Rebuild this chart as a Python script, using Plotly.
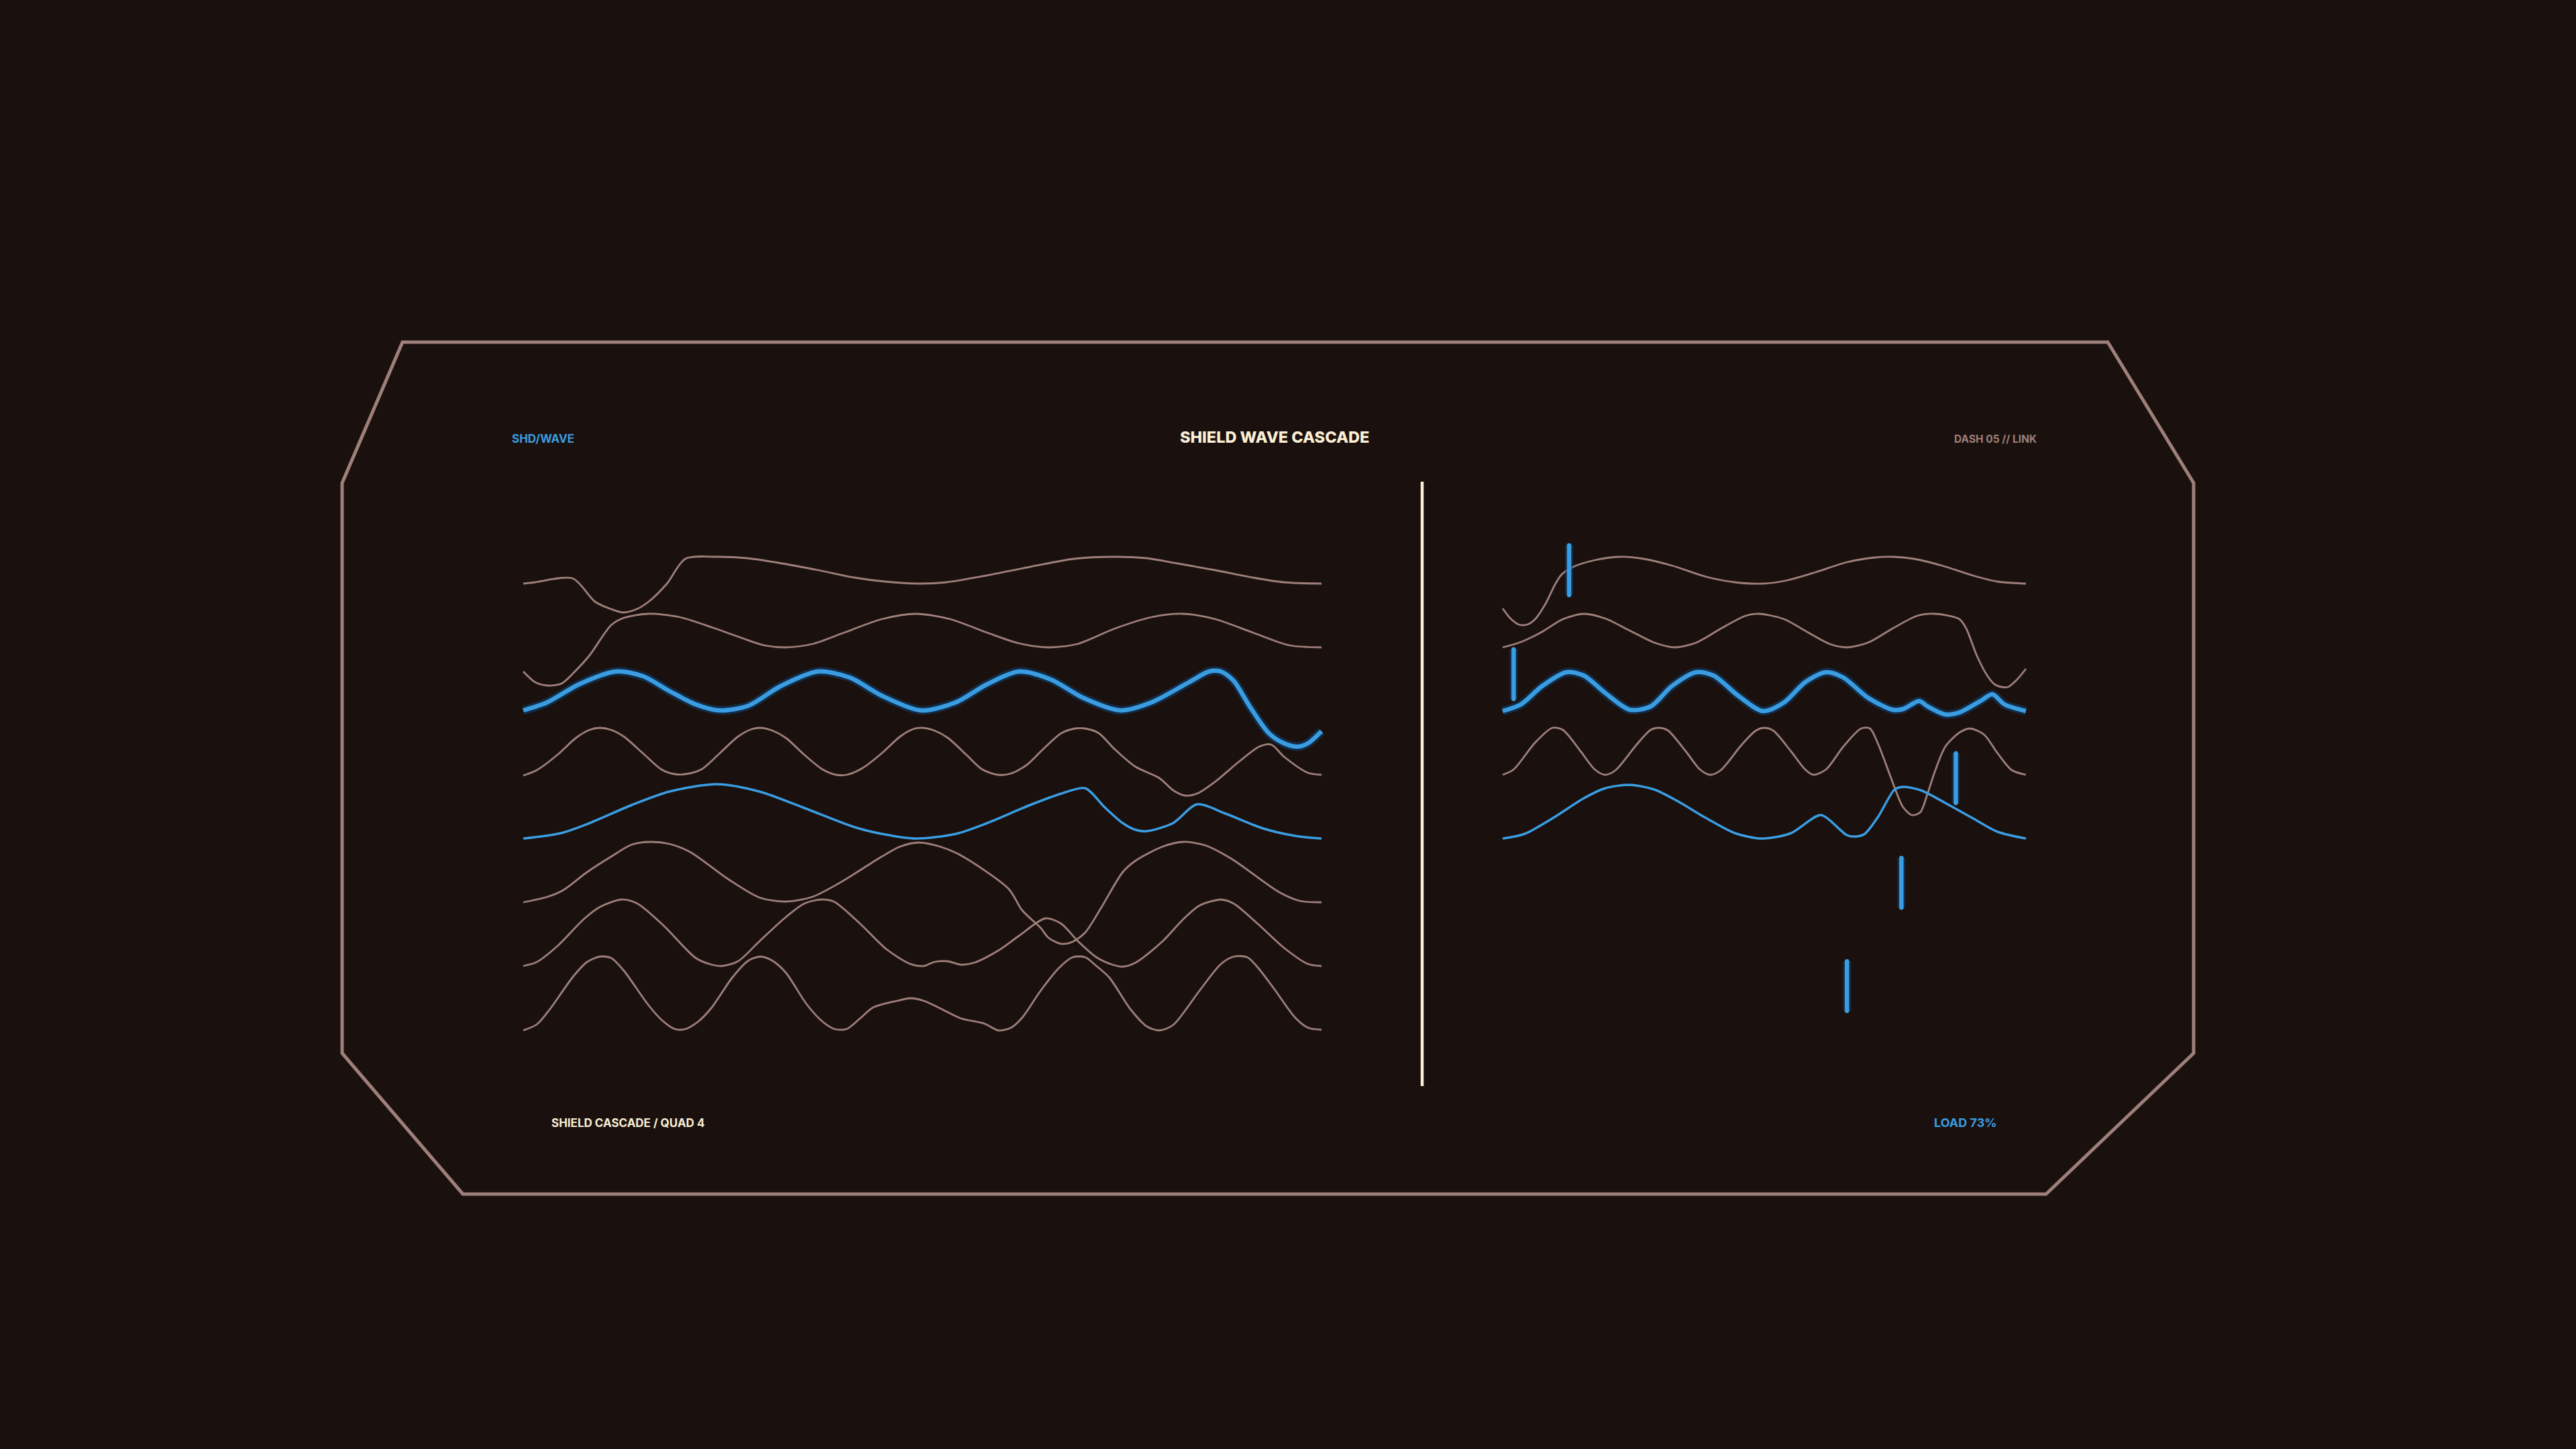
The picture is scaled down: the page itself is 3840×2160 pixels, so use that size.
import plotly.graph_objects as go

# Colours
BG = '#1a110e'
MAUVE = '#9e7f7a'
BLUE = '#3a9de2'
GLOW = 'rgba(15,65,115,0.55)'
CREAM = '#fcefd6'

# Left panel waves: x in % of panel width, value = height above the row baseline
L0_x = [0, 1.5, 6.2, 9, 11, 12.5, 14.2, 15.7, 18, 20.3, 24.3, 28, 32, 37, 41.5, 45, 49.5,
        53, 58, 63.5, 69, 74, 78, 82, 86.7, 91.4, 95.3, 100]
L0_v = [0, 2, 7.7, -27, -38, -43, -38, -27, 0, 37, 40, 38, 31, 20, 9, 3.5, 0,
        2, 12, 25, 37, 40, 38, 30, 20, 9, 2, 0]

L1_x = [0, 1.5, 3.1, 4.8, 6.3, 8.3, 11, 12.6, 15.7, 19.6, 23.6, 27.6, 30.2, 32.9, 36.2, 40.2,
        44.9, 49.2, 53.5, 58.1, 62.1, 65.8, 69.4, 74.1, 78.7, 82.7, 86.7, 91.4, 96, 100]
L1_v = [-36, -52, -57, -54, -38, -12, 33, 44, 50, 45, 30, 13, 3, 0, 5, 22,
        42, 50, 42, 22, 6, 0, 5, 28, 45, 50, 42, 22, 3, 0]

L2_x = [0, 3, 7, 11.6, 15, 18.3, 21.6, 24.6, 28.2, 32.2, 36.9, 40.9, 44.9, 49.8, 54.2, 58.1,
        62.1, 66.1, 70.1, 74.8, 78.7, 83.4, 85.9, 87.4, 89, 91, 93.4, 95.3, 97, 98.3, 100]
L2_v = [1, 13, 40, 59, 52, 30, 10, 1, 8, 37, 59, 50, 23, 1, 13, 40,
        59, 47, 20, 1, 13, 43, 59, 59, 45, 7, -33, -48, -53, -48, -30]

L3_x = [0, 1.7, 4.3, 6.6, 8.3, 9.6, 11, 12.6, 15, 17.3, 19, 20.3, 22.3, 24.6, 26.9, 28.6, 29.7,
        31.2, 32.9, 35.2, 37.5, 39.2, 40.5, 42.5, 44.9, 47.2, 48.8, 50, 51.5, 53.2, 55.5, 57.5,
        59.5, 61.1, 63.1, 65.1, 67.4, 69.1, 70.4, 72.1, 74.1, 76.7, 79.7, 81.4, 82.9, 84.4,
        86.7, 89.7, 92.2, 93.7, 95.3, 98.3, 100]
L3_v = [-1, 7, 30, 55, 67, 70, 67, 57, 32, 8, 1, 1, 8, 32, 57, 68, 70,
        66, 55, 30, 8, 0, 0, 10, 32, 57, 68, 70, 66, 55, 30, 8,
        0, 2, 15, 38, 62, 69, 69, 62, 38, 12, -5, -23, -31, -28,
        -10, 20, 42, 45, 27, 3, 0]

L4_x = [0, 4.7, 8.3, 13.6, 18.3, 24.3, 29.6, 34.9, 41.5, 44.9, 49.2, 54.2, 58.1, 63.5, 67.4,
        70.4, 72.8, 75.1, 76.7, 78.1, 81.4, 84.4, 88, 92.7, 96.7, 100]
L4_v = [0, 8, 23, 50, 70, 81, 70, 47, 17, 7, 0, 7, 23, 50, 67,
        75, 47, 23, 13, 11, 23, 51, 37, 15, 4, 0]

L5_x = [0, 3, 5, 8, 11, 13.6, 16, 18.3, 20.9, 25.6, 29.6, 32.9, 36.2, 39.5, 44.9, 47.2, 49.5,
        52.2, 54.8, 60.8, 62.5, 64.8, 65.8, 67.4, 68.8, 70.4, 72.4, 75.1, 76.7, 80.1, 82.7,
        85.4, 88.7, 94.7, 97.3, 100]
L5_v = [0, 8, 18, 45, 68, 86, 90, 87, 75, 35, 7, 1, 8, 28, 68, 83, 89,
        83, 70, 20, -12, -38, -53, -62, -59, -45, -8, 45, 62, 83, 90,
        85, 65, 15, 2, 0]

L6_x = [0, 1.7, 4.3, 7.6, 9.6, 12.3, 14.3, 17.6, 21.6, 23.6, 24.9, 26.9, 29.6, 32.9, 35.2, 37.2,
        38.9, 42.2, 45.5, 48.5, 50.2, 51.5, 53.2, 54.8, 56.5, 59.5, 62.1, 65.4, 67.4, 69.4,
        71.8, 73.8, 75.1, 76.7, 80.1, 82.7, 84.7, 87.4, 89, 92, 95.3, 98.3, 100]
L6_v = [0, 6, 30, 70, 88, 99, 93, 60, 12, 2, 0, 7, 37, 73, 93, 99,
        96, 63, 25, 3, 0, 6, 7, 2, 5, 23, 45, 71, 63, 38,
        13, 2, -1, 5, 37, 70, 90, 99, 93, 63, 27, 3, 0]

L7_x = [0, 1.7, 3.3, 6.3, 8, 9.6, 11, 12.6, 15.6, 17.3, 19, 20.3, 21.9, 23.6, 26.2, 28.2, 29.7,
        31.2, 32.9, 35.5, 37.5, 39, 40.5, 42.2, 43.8, 46.8, 48.5, 50.2, 52.2, 54.8, 57.8, 59.5,
        61.1, 62.5, 64.8, 67.1, 68.8, 70.4, 71.8, 73.4, 76.1, 78.1, 79.7, 81.4, 84.7, 87.4, 89,
        90.7, 92, 94, 96.7, 98.3, 100]
L7_v = [-1, 8, 30, 80, 101, 109, 107, 88, 38, 15, 1, 1, 12, 33, 78, 103, 109,
        103, 85, 38, 12, 1, 1, 17, 33, 43, 47, 43, 32, 17, 9, -1,
        3, 18, 58, 92, 108, 108, 95, 78, 30, 5, -1, 7, 58, 98, 109,
        108, 93, 62, 18, 3, 0]

# Right panel waves
R0_x = [0, 1.5, 3.1, 4.7, 6.2, 8.2, 9.9, 11.2, 13.5, 17.6, 22.3, 26.9, 32.3, 39, 44.4, 49.7,
        54.4, 59.8, 65.8, 71.2, 74.5, 78.6, 83.9, 89.9, 94.6, 100]
R0_v = [-37, -52, -61, -61, -53, -30, -3, 13, 25, 35, 40, 37, 27, 10, 2, 0,
        5, 17, 32, 39, 40, 37, 27, 12, 3, 0]

R1_x = [0, 3.5, 7.5, 11.5, 15.5, 19.6, 24.3, 29, 33, 37, 41.7, 46.4, 49, 53.8, 58.4, 62.5,
        65.8, 69.8, 74.5, 79.2, 82.6, 87.3, 88.6, 90.6, 92.6, 94, 95.3, 96.6, 98.3, 100]
R1_v = [0, 8, 23, 42, 50, 43, 25, 7, 0, 7, 28, 47, 50, 42, 22, 5,
        0, 7, 28, 47, 50, 42, 28, -12, -42, -55, -59, -59, -48, -32]

R2_x = [0, 3.5, 7.5, 12.2, 15.5, 19.6, 24.3, 28.3, 32.3, 37, 40.3, 45, 49.7, 53.8, 57.8, 61.8,
        65.1, 69.8, 74.5, 76.5, 79.6, 81.2, 84.6, 87.3, 91.3, 93.6, 95.9, 100]
R2_v = [0, 10, 37, 58, 53, 27, 2, 7, 37, 58, 53, 23, 0, 13, 43, 58,
        50, 20, 2, 3, 15, 7, -5, -2, 15, 25, 10, 0]

R3_x = [0, 2.1, 6.2, 9.5, 11.5, 14.9, 17.6, 19.6, 21.6, 25.6, 28.3, 30, 31.6, 35, 37.7, 39.7,
        41.7, 45.7, 48.4, 50, 51.7, 55.1, 57.8, 59.4, 61.8, 65.1, 68.5, 70.2, 71.8, 73.9, 75.2,
        76.5, 78.2, 79.8, 81.2, 82.6, 84.6, 87.3, 89.3, 92, 94.6, 97.3, 100]
R3_v = [0, 8, 48, 70, 67, 35, 8, 0, 7, 45, 67, 70, 66, 35, 8, 0,
        7, 45, 66, 70, 66, 35, 8, 0, 8, 42, 69, 69, 45, 2, -25,
        -48, -60, -56, -28, 5, 42, 63, 69, 60, 32, 7, 0]

R4_x = [0, 4.2, 9.5, 15.5, 19.6, 24.3, 29, 33.6, 39, 44.4, 49.7, 55.1, 60.8, 64.5, 65.8, 67.5,
        69.2, 71.8, 74.9, 76.5, 79.9, 84.6, 89.9, 94.6, 100]
R4_v = [0, 7, 30, 60, 75, 80, 73, 55, 30, 8, 0, 8, 35, 13, 5, 3,
        7, 33, 73, 77, 72, 53, 30, 10, 0]

# Event ticks on the right panel (x in %, level relative to first baseline)
TICK_X = [12.7, 2.1, 86.6, 76.2, 65.8]
TICK_LEVEL = [20, -135, -290, -446, -600]

left_rows = [(L0_x, L0_v), (L1_x, L1_v), (L2_x, L2_v), (L3_x, L3_v),
             (L4_x, L4_v), (L5_x, L5_v), (L6_x, L6_v), (L7_x, L7_v)]
right_rows = [(R0_x, R0_v), (R1_x, R1_v), (R2_x, R2_v), (R3_x, R3_v), (R4_x, R4_v)]

W, H = 3840, 2160
ROW_GAP = 95
TICK_HALF = 37


def px(x):
    return x / W


def py(y):
    return 1 - y / H


fig = go.Figure()


def add_row(xs, vs, r, xa, ya):
    ys = [v - ROW_GAP * r for v in vs]
    if r == 2:
        fig.add_trace(go.Scatter(x=xs, y=ys, mode='lines', xaxis=xa, yaxis=ya,
                                 line=dict(color=GLOW, width=13, shape='spline', smoothing=0.8),
                                 hoverinfo='skip'))
        line = dict(color=BLUE, width=6.5, shape='spline', smoothing=0.8)
    elif r == 4:
        line = dict(color=BLUE, width=3.5, shape='spline', smoothing=0.8)
    else:
        line = dict(color=MAUVE, width=2.8, shape='spline', smoothing=0.8)
    fig.add_trace(go.Scatter(x=xs, y=ys, mode='lines', xaxis=xa, yaxis=ya, line=line,
                             hoverinfo='skip'))


for r, (xs, vs) in enumerate(left_rows):
    add_row(xs, vs, r, 'x', 'y')
for r, (xs, vs) in enumerate(right_rows):
    add_row(xs, vs, r, 'x2', 'y2')

# tick segments
tx, ty = [], []
for x, lv in zip(TICK_X, TICK_LEVEL):
    tx += [x, x, None]
    ty += [lv - TICK_HALF, lv + TICK_HALF, None]
fig.add_trace(go.Scatter(x=tx, y=ty, mode='lines', xaxis='x2', yaxis='y2',
                         line=dict(color=GLOW, width=12), hoverinfo='skip'))
fig.add_trace(go.Scatter(x=tx, y=ty, mode='lines+markers', xaxis='x2', yaxis='y2',
                         line=dict(color=BLUE, width=6.5),
                         marker=dict(size=6.5, color=BLUE), hoverinfo='skip'))

# panel geometry in pixels
LEFT = (780, 1970)
RIGHT = (2240, 3020)
TOP_PX, BOT_PX = 780, 1620
BASE0 = 870


def xdom(a, b):
    pad = (b - a) / 100
    return [px(a - pad), px(b + pad)]


ydom = [py(BOT_PX), py(TOP_PX)]
yrange = [BASE0 - BOT_PX, BASE0 - TOP_PX]
hidden = dict(visible=False, showgrid=False, zeroline=False, fixedrange=True)

fig.update_layout(
    width=W, height=H,
    margin=dict(l=0, r=0, t=0, b=0),
    paper_bgcolor=BG, plot_bgcolor='rgba(0,0,0,0)',
    showlegend=False,
    xaxis=dict(domain=xdom(*LEFT), range=[-1, 101], anchor='y', **hidden),
    yaxis=dict(domain=ydom, range=yrange, anchor='x', **hidden),
    xaxis2=dict(domain=xdom(*RIGHT), range=[-1, 101], anchor='y2', **hidden),
    yaxis2=dict(domain=ydom, range=yrange, anchor='x2', **hidden),
    font=dict(family='Inter, Roboto, sans-serif'),
)

# octagonal frame
frame = [(600, 510), (3142, 510), (3270, 720), (3270, 1570), (3050, 1780),
         (690, 1780), (510, 1570), (510, 720)]
path = 'M ' + ' L '.join(f'{px(x)},{py(y)}' for x, y in frame) + ' Z'
fig.add_shape(type='path', path=path, xref='paper', yref='paper',
              line=dict(color=MAUVE, width=5), layer='below')

# divider
fig.add_shape(type='line', xref='paper', yref='paper',
              x0=px(2120), x1=px(2120), y0=py(718), y1=py(1619),
              line=dict(color=CREAM, width=4.5))

labels = [
    ('SHD/WAVE', 761, 654, 'left', 17, BLUE, 700),
    ('SHIELD WAVE CASCADE', 1900, 652, 'center', 23.5, CREAM, 800),
    ('DASH 05 // LINK', 3038, 654, 'right', 15.5, MAUVE, 700),
    ('SHIELD CASCADE / QUAD 4', 820, 1674, 'left', 17, CREAM, 700),
    ('LOAD 73%', 2979, 1673, 'right', 18, BLUE, 700),
]
for text, x, y, anchor, size, color, weight in labels:
    fig.add_annotation(text=text, x=px(x), y=py(y), xref='paper', yref='paper',
                       xanchor=anchor, yanchor='middle', showarrow=False,
                       font=dict(size=size, color=color, weight=weight,
                                 family='Inter, Roboto, sans-serif'))

fig.write_html('out.html', config={'displayModeBar': False},
               post_script="document.body.style.margin='0';")
